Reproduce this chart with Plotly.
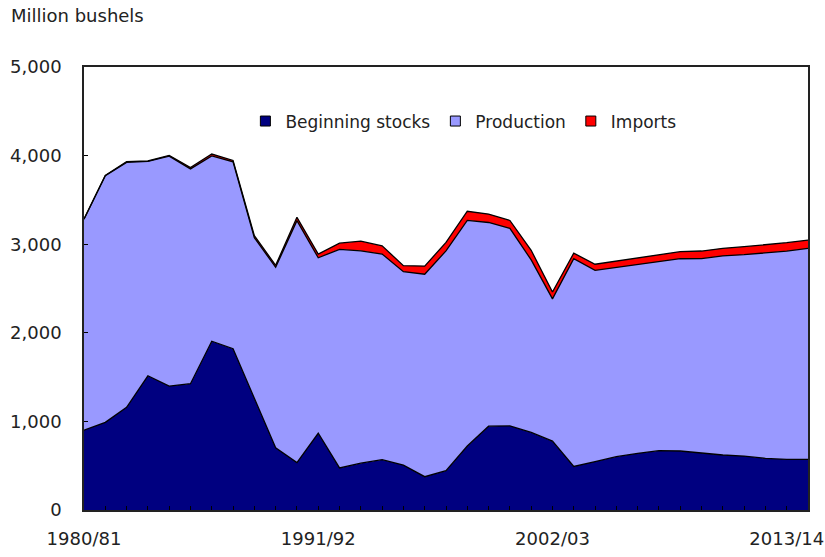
import plotly.graph_objects as go

years = list(range(1980, 2015))
tick_years = [1980, 1991, 2002, 2013]
tick_labels = ["1980/81", "1991/92", "2002/03", "2013/14"]

beginning_stocks = [902, 989, 1159, 1515, 1399, 1425, 1905, 1821, 1261, 702,
                    536, 866, 475, 529, 568, 507, 376, 444, 722, 946,
                    950, 876, 777, 491, 546, 602, 640, 670, 666, 640,
                    621, 609, 583, 572, 572]
production = [2381, 2785, 2765, 2420, 2595, 2425, 2092, 2108, 1812, 2037,
              2730, 1981, 2467, 2396, 2321, 2183, 2285, 2481, 2547, 2299,
              2228, 1947, 1606, 2345, 2158, 2133, 2133, 2128, 2170, 2198,
              2247, 2273, 2318, 2350, 2380]
imports = [3, 3, 8, 4, 9, 16, 21, 16, 23, 23,
           37, 41, 70, 109, 92, 68, 92, 95, 103, 95,
           90, 108, 77, 63, 70, 75, 75, 80, 80, 85,
           85, 90, 90, 95, 95]

series = [("Beginning stocks", beginning_stocks, "#000080"),
          ("Production", production, "#9999FF"),
          ("Imports", imports, "#FF0000")]

FONT = "DejaVu Sans"
TXT = "#222222"

fig = go.Figure()
for name, vals, col in series:
    fig.add_trace(go.Scatter(
        x=years, y=vals, name=name, mode="lines", stackgroup="one",
        fillcolor=col, line=dict(color="black", width=1.3),
        showlegend=False, hoverinfo="x+y+name"))
# legend entries with square swatches
for name, vals, col in series:
    fig.add_trace(go.Scatter(
        x=[None], y=[None], name=name, mode="markers",
        marker=dict(symbol="square", size=10, color=col,
                    line=dict(color="black", width=1)),
        showlegend=True))

fig.update_layout(
    width=825, height=557,
    margin=dict(l=84, r=17, t=67, b=47),
    paper_bgcolor="white", plot_bgcolor="white",
    font=dict(family=FONT, size=17, color=TXT),
    showlegend=True,
    legend=dict(orientation="h", x=0.524, y=0.877, xanchor="center", yanchor="middle",
                traceorder="normal",
                bgcolor="rgba(0,0,0,0)", font=dict(family=FONT, size=17, color=TXT),
                itemwidth=30, tracegroupgap=0),
    annotations=[dict(text="Million bushels", xref="paper", yref="paper",
                      x=-75/724, y=1 + 51/443, xanchor="left", yanchor="middle",
                      showarrow=False, font=dict(family=FONT, size=18, color=TXT))],
)
fig.update_xaxes(
    range=[1980, 2014], tickvals=tick_years, ticktext=tick_labels,
    ticks="inside", ticklen=4, tickcolor="black",
    minor=dict(dtick=1, tick0=1980, ticks="inside", ticklen=4, tickcolor="black"),
    showgrid=False, zeroline=False, automargin=False,
    showline=True, mirror=True, linecolor="#222222", linewidth=1.5,
    tickfont=dict(family=FONT, size=18, color=TXT), ticklabelstandoff=12)
fig.update_yaxes(
    range=[0, 5000], dtick=1000, tickformat=",",
    ticks="inside", ticklen=4, tickcolor="black",
    showgrid=False, zeroline=False, automargin=False,
    showline=True, mirror=True, linecolor="#222222", linewidth=1.5,
    tickfont=dict(family=FONT, size=18, color=TXT), ticklabelstandoff=17)

fig.write_html("out.html", config={"displayModeBar": False},
               post_script="document.body.style.margin='0';")
